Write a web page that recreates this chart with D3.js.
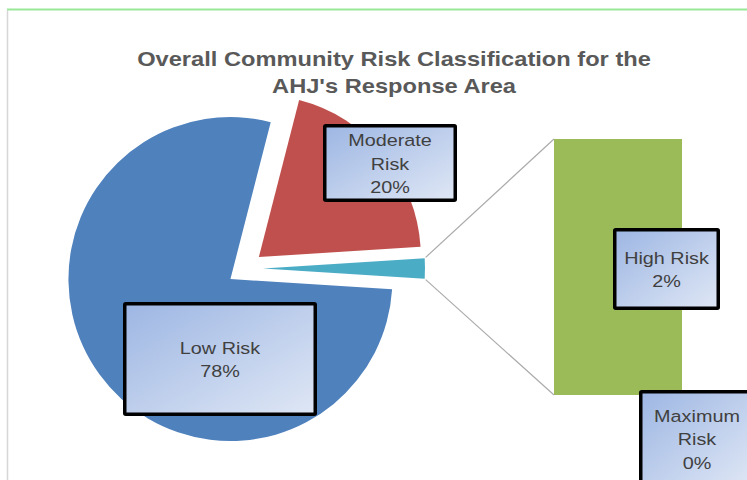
<!DOCTYPE html>
<html>
<head>
<meta charset="utf-8">
<script src="https://cdn.jsdelivr.net/npm/d3@7"></script>
<style>
  html, body { margin: 0; padding: 0; background: #ffffff; }
  svg { display: block; }
  text { font-family: "Liberation Sans", Arial, sans-serif; }
</style>
</head>
<body>
<svg id="chart" width="747" height="480"></svg>
<script>
// ---- data ----
const titleLines = ["Overall Community Risk Classification for the", "AHJ's Response Area"];
const categories = ["Low Risk", "Moderate Risk", "High Risk", "Maximum Risk"];
const values = [78, 20, 2, 0];
const labelNames = [["Low Risk"], ["Moderate", "Risk"], ["High Risk"], ["Maximum", "Risk"]];
const splitIndex = 2; // items from this index go to the secondary bar
const pieColors = ["#4f81bd", "#c0504d", "#4bacc6"];
const barColors = ["#9bbb59", "#9bbb59"];

// ---- layout ----
const W = 747, H = 480;
const svg = d3.select("#chart");
const defs = svg.append("defs");
const grad = defs.append("linearGradient").attr("id", "lblGrad")
  .attr("x1", 0).attr("y1", 0).attr("x2", 1).attr("y2", 1);
grad.append("stop").attr("offset", "0%").attr("stop-color", "#9db6e3");
grad.append("stop").attr("offset", "100%").attr("stop-color", "#dfe7f5");

svg.append("rect").attr("width", W).attr("height", H).attr("fill", "#fff");
// chart area borders
svg.append("line").attr("x1", 7).attr("x2", W).attr("y1", 9.5).attr("y2", 9.5)
  .attr("stroke", "#98e898").attr("stroke-width", 2);
svg.append("line").attr("x1", 7.5).attr("x2", 7.5).attr("y1", 10).attr("y2", H)
  .attr("stroke", "#d6d6d6").attr("stroke-width", 1.5);

function stretchedText(g, x, y, str, size, sx, opts) {
  return g.append("text")
    .attr("transform", `translate(${x},${y}) scale(${sx},1)`)
    .attr("text-anchor", "middle")
    .attr("font-size", size)
    .attr("font-weight", opts.weight || "normal")
    .attr("fill", opts.fill)
    .text(str);
}

// title
const titleG = svg.append("g");
titleLines.forEach((t, i) => {
  stretchedText(titleG, 394, 65.5 + i * 27.5, t, 21, 1.126, { weight: "bold", fill: "#595959" });
});

// ---- pie ----
const pieValues = values.slice(0, splitIndex).concat([d3.sum(values.slice(splitIndex))]);
const total = d3.sum(pieValues);
const otherFrac = pieValues[pieValues.length - 1] / total;
const cx = 245, cy = 268.5, R = 162, explode = 18;
const start = Math.PI / 2 + otherFrac * Math.PI; // other slice centred on 3 o'clock
const pie = d3.pie().sort(null).startAngle(start).endAngle(start + 2 * Math.PI);
const arcs = pie(pieValues);
const arcGen = d3.arc().innerRadius(0).outerRadius(R);

const pieG = svg.append("g").attr("transform", `translate(${cx},${cy})`);
arcs.forEach((a, i) => {
  const mid = (a.startAngle + a.endAngle) / 2;
  const dx = Math.sin(mid) * explode, dy = -Math.cos(mid) * explode;
  pieG.append("path")
    .attr("d", arcGen(a))
    .attr("transform", `translate(${dx},${dy})`)
    .attr("fill", pieColors[i]);
});

// ---- secondary bar ----
const barItems = categories.slice(splitIndex).map((c, i) => ({ c, v: values[splitIndex + i] }));
const x = d3.scaleBand().domain(["Other"]).range([554, 682]).padding(0);
const y = d3.scaleLinear().domain([0, d3.sum(barItems, d => d.v)]).range([395, 139]);
// stack: Maximum at the bottom, High above
const stackOrder = barItems.slice().reverse();
let acc = 0;
const barG = svg.append("g");
stackOrder.forEach((d, i) => {
  const y0 = acc, y1 = acc + d.v;
  acc = y1;
  barG.append("rect")
    .attr("x", x("Other")).attr("width", x.bandwidth())
    .attr("y", y(y1)).attr("height", y(y0) - y(y1))
    .attr("fill", barColors[i]);
});

// connector lines from the "other" slice tips to the bar corners
const otherArc = arcs[arcs.length - 1];
const om = (otherArc.startAngle + otherArc.endAngle) / 2;
const ox = cx + Math.sin(om) * explode, oy = cy - Math.cos(om) * explode;
const tip = ang => [ox + Math.sin(ang) * R, oy - Math.cos(ang) * R];
const tTop = tip(otherArc.startAngle), tBot = tip(otherArc.endAngle);
const connG = svg.append("g").attr("stroke", "#ababab").attr("stroke-width", 1.2);
connG.append("line").attr("x1", tTop[0] + 1).attr("y1", tTop[1] - 1)
  .attr("x2", x("Other")).attr("y2", y.range()[1]);
connG.append("line").attr("x1", tBot[0] + 1).attr("y1", tBot[1] + 1)
  .attr("x2", x("Other")).attr("y2", y.range()[0]);

// ---- data labels ----
const boxes = [
  [123, 302, 317, 416],
  [323, 124, 457, 202],
  [613, 228, 720, 310],
  [639, 390, 755, 487]
];
const lblG = svg.append("g");
categories.forEach((c, i) => {
  const [l, t, r, b] = boxes[i];
  const sw = 3.5;
  lblG.append("rect")
    .attr("x", l + sw / 2).attr("y", t + sw / 2)
    .attr("width", r - l - sw).attr("height", b - t - sw)
    .attr("rx", 1)
    .attr("fill", "url(#lblGrad)")
    .attr("stroke", "#000").attr("stroke-width", sw);
  const lines = labelNames[i].concat([values[i] + "%"]);
  const lh = 23.5;
  const ccx = (l + r) / 2, ccy = (t + b) / 2;
  const y0 = ccy - (lines.length - 1) * lh / 2 + 6.5;
  lines.forEach((s, k) => {
    stretchedText(lblG, ccx, y0 + k * lh, s, 16.5, 1.2, { fill: "#404040" });
  });
});
</script>
</body>
</html>
